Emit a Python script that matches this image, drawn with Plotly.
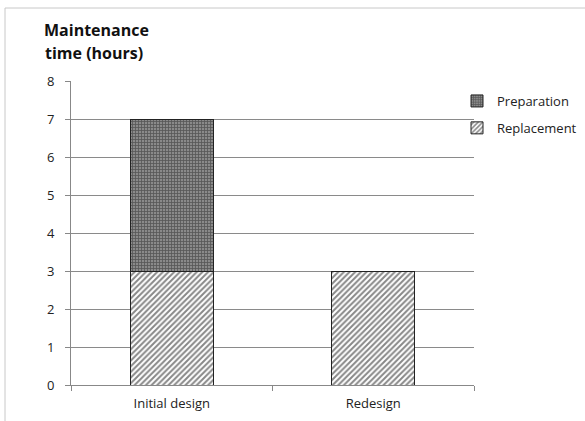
import plotly.graph_objects as go

categories = ["Initial design", "Redesign"]
replacement = [3, 3]
preparation = [4, 0]
y_ticks = [0, 1, 2, 3, 4, 5, 6, 7, 8]

FONT = "Open Sans"
L, R, T, B = 71, 111, 81, 36
W, H = 585, 421
pw, ph = W - L - R, H - T - B

fig = go.Figure()
fig.add_trace(go.Bar(
    x=categories, y=replacement, name="Replacement", width=0.41, legendgroup="rep", legendrank=2,
    marker=dict(color="white", line=dict(color="#222", width=1),
                pattern=dict(shape="/", fgcolor="#111", bgcolor="white", size=4, solidity=0.5)),
))
fig.add_trace(go.Bar(
    x=categories, y=preparation, name="Preparation", width=0.41, legendgroup="prep", legendrank=1,
    marker=dict(color="#707070", line=dict(color="#222", width=1),
                pattern=dict(shape="+", fgcolor="#222", bgcolor="#8a8a8a", size=3, solidity=0.45)),
))

def px_x(p):
    return (p - L) / pw

def px_y(p):
    return (H - B - p) / ph

fig.update_layout(
    width=W, height=H, barmode="stack",
    margin=dict(l=L, r=R, t=T, b=B, autoexpand=False),
    paper_bgcolor="white", plot_bgcolor="white",
    font=dict(family=FONT, size=13, color="#222"),
    showlegend=True,
    legend=dict(x=px_x(457), xanchor="left", y=px_y(86), yanchor="top",
                font=dict(size=13, color="#222"), traceorder="grouped",
                itemwidth=30, tracegroupgap=7, bgcolor="rgba(0,0,0,0)"),
    xaxis=dict(showline=True, linecolor="#888", linewidth=1, ticks="outside", tickson="boundaries",
               ticklen=5, tickcolor="#888", showgrid=False, tickfont=dict(size=13),
               ticklabelstandoff=6),
    yaxis=dict(range=[0, 8], tickvals=y_ticks, showline=True, linecolor="#888", linewidth=1,
               ticks="outside", ticklen=5, tickcolor="#888", showgrid=True, gridcolor="#8a8a8a",
               gridwidth=1, zeroline=False, tickfont=dict(size=13), ticklabelstandoff=8),
    annotations=[
        dict(text="<b>Maintenance</b>", xref="paper", yref="paper",
             x=px_x(42), y=px_y(30), xanchor="left", yanchor="middle", showarrow=False,
             font=dict(family=FONT, size=16, color="#111")),
        dict(text="<b>time (hours)</b>", xref="paper", yref="paper",
             x=px_x(43), y=px_y(53), xanchor="left", yanchor="middle", showarrow=False,
             font=dict(family=FONT, size=16, color="#111")),
    ],
    shapes=[
        dict(type="line", xref="paper", yref="paper", x0=px_x(5), x1=px_x(5), y0=px_y(8), y1=px_y(430),
             line=dict(color="#c8c8c8", width=1)),
        dict(type="line", xref="paper", yref="paper", x0=px_x(5), x1=px_x(600), y0=px_y(8), y1=px_y(8),
             line=dict(color="#c8c8c8", width=1)),
    ],
)

fig.write_html("out.html", config={"displayModeBar": False},
               post_script="document.body.style.margin='0';")
